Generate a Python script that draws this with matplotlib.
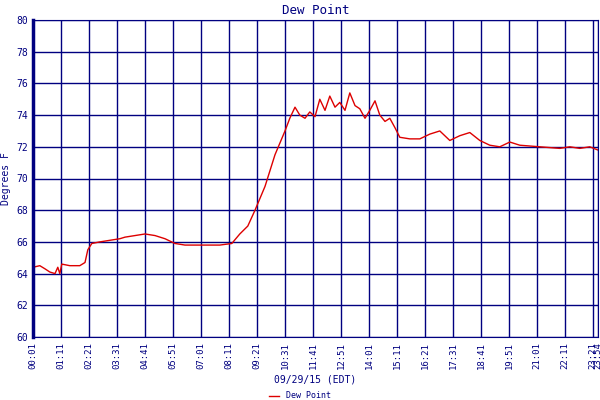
import matplotlib
matplotlib.use("Agg")
import matplotlib.pyplot as plt
from matplotlib.lines import Line2D

# minutes after midnight and dew point (F)
minutes = [1, 18, 31, 43, 56, 63, 68, 73, 93, 118, 131, 138, 148, 168, 193, 218, 231, 256,
           281, 306, 331, 356, 381, 406, 431, 468, 498, 518, 538, 556, 581, 606, 631, 643,
           656, 668, 681, 693, 706, 718, 731, 743, 756, 768, 781, 793, 806, 818, 831, 843,
           856, 868, 881, 893, 906, 918, 943, 968, 993, 1018, 1043, 1068, 1093, 1118, 1143,
           1168, 1193, 1218, 1268, 1318, 1343, 1368, 1393, 1413]
dewpoint = [64.4, 64.5, 64.3, 64.1, 64.0, 64.4, 64.0, 64.6, 64.5, 64.5, 64.7, 65.5, 65.9,
            66.0, 66.1, 66.2, 66.3, 66.4, 66.5, 66.4, 66.2, 65.9, 65.8, 65.8, 65.8, 65.8,
            65.9, 66.5, 67.0, 68.0, 69.5, 71.5, 73.0, 73.8, 74.5, 74.0, 73.8, 74.2, 73.9,
            75.0, 74.3, 75.2, 74.5, 74.8, 74.3, 75.4, 74.6, 74.4, 73.8, 74.3, 74.9, 74.0,
            73.6, 73.8, 73.2, 72.6, 72.5, 72.5, 72.8, 73.0, 72.4, 72.7, 72.9, 72.4, 72.1,
            72.0, 72.3, 72.1, 72.0, 71.9, 72.0, 71.9, 72.0, 71.8]

tick_pos = list(range(1, 1402, 70)) + [1414]
tick_labels = ["%02d:%02d" % (m // 60, m % 60) for m in range(1, 1402, 70)] + ["23:54"]

navy = "#000080"
plt.rcParams["font.family"] = "DejaVu Sans Mono"
fig = plt.figure(figsize=(6, 4), dpi=100)
ax = fig.add_axes([0.055, 0.1575, 0.942, 0.7925])
ax.plot(minutes, dewpoint, color="#dd0000", lw=1)
ax.set_xlim(1, 1414)
ax.set_ylim(60, 80)
ax.set_yticks(range(60, 81, 2))
ax.set_xticks(tick_pos)
ax.set_xticklabels(tick_labels, rotation=90, fontsize=6.5, color=navy)
ax.tick_params(axis="y", labelsize=7, colors=navy, length=0)
ax.tick_params(axis="x", length=0, pad=4)
ax.grid(True, color=navy, lw=1)
for s in ax.spines.values():
    s.set_color(navy)
ax.spines["left"].set_linewidth(2.5)
ax.set_title("Dew Point", color=navy, fontsize=9, pad=4)
ax.set_ylabel("Degrees F", color=navy, fontsize=7)
ax.set_xlabel("09/29/15 (EDT)", color=navy, fontsize=7, labelpad=4)
fig.legend(handles=[Line2D([], [], color="#dd0000", lw=1, label="Dew Point")],
           loc="lower center", bbox_to_anchor=(0.5, -0.02), frameon=False,
           fontsize=6, labelcolor=navy, handlelength=1.2)
fig.savefig("out.png")
